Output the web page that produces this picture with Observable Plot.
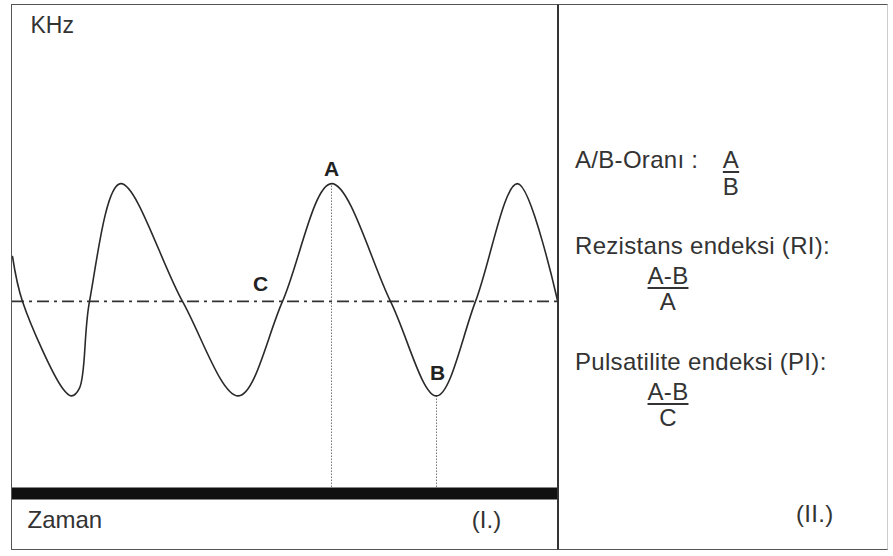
<!DOCTYPE html>
<html>
<head>
<meta charset="utf-8">
<script src="https://cdn.jsdelivr.net/npm/d3@7"></script>
<script src="https://cdn.jsdelivr.net/npm/@observablehq/plot@0.6"></script>
<style>
  body { margin: 0; background: #fff; }
  #page { position: relative; width: 893px; height: 556px; font-family: "Liberation Sans", Arial, sans-serif; color: #333; }
  #left { position: absolute; left: 11px; top: 4px; width: 545px; height: 544px; border: 1px solid #555; }
  #left svg { display: block; }
  #right { position: absolute; left: 557px; top: 4px; width: 328px; height: 544px; border-top: 1px solid #555; border-bottom: 1px solid #555; border-left: 2px solid #333; border-right: 1px solid #ccc; }
  .t { position: absolute; font-size: 24px; line-height: 24px; letter-spacing: 0.3px; white-space: nowrap; }
  .frac { position: absolute; font-size: 24px; text-align: center; white-space: nowrap; transform: translateX(-50%); letter-spacing: 0.3px; }
  .frac .num { text-decoration: underline; text-decoration-thickness: 1.5px; text-underline-offset: 3px; }
</style>
</head>
<body>
<div id="page">
  <div id="left"></div>
  <div id="right"></div>
  <div class="t" style="left:575px; top:148px;">A/B-Oranı :</div>
  <div class="frac" style="left:731px; top:146px; line-height:27px;"><div class="num">A</div><div>B</div></div>
  <div class="t" style="left:575px; top:234px;">Rezistans endeksi (RI):</div>
  <div class="frac" style="left:668px; top:263px; line-height:26px;"><div class="num">A-B</div><div>A</div></div>
  <div class="t" style="left:575px; top:350px;">Pulsatilite endeksi (PI):</div>
  <div class="frac" style="left:668px; top:379px; line-height:26px;"><div class="num">A-B</div><div>C</div></div>
  <div class="t" style="left:796px; top:502px;">(II.)</div>
</div>
<script>
// Doppler frequency-time curve (time in s, frequency shift in KHz)
const time = [0, 0.04, 0.2, 0.236, 0.268, 0.308, 0.432, 0.68, 0.904, 1.08, 1.276, 1.512, 1.696, 1.852, 2.02, 2.18];
const khz  = [3.06, 2.48, 1.36, 1.26, 1.36, 2.48, 4.0, 2.48, 1.26, 2.48, 4.0, 2.48, 1.26, 2.48, 4.0, 2.49];

// Characteristic values
const peakA = 4.0;      // A: systolic peak
const troughB = 1.26;   // B: end-diastolic value
const meanC = 2.48;     // C: mean
const tA = 1.276;
const tB = 1.696;
const tC = 0.992;

const pointLabels = ["A", "B", "C"];
const pointTimes = [tA, tB + 0.004, tC];
const pointValues = [peakA, troughB, meanC];
const pointOffsets = [-14, -23, -17];

const axisLabels = ["KHz", "Zaman", "(I.)"];

const curve = time.map((t, i) => ({t, f: khz[i]}));
const pts = pointLabels.map((name, i) => ({name, t: pointTimes[i], f: pointValues[i], dy: pointOffsets[i]}));

const font = "Liberation Sans, Arial, sans-serif";

const chart = Plot.plot({
  width: 545,
  height: 544,
  marginTop: 0,
  marginBottom: 56,
  marginLeft: 0,
  marginRight: 0,
  x: {domain: [0, 2.18], axis: null},
  y: {domain: [0, 6.3], axis: null},
  style: {fontFamily: font, background: "#fff"},
  marks: [
    Plot.ruleY([meanC], {stroke: "#333", strokeWidth: 1.6, strokeDasharray: "12,5,3,5"}),
    Plot.ruleX([{t: tA, f: peakA}, {t: tB, f: troughB}], {x: "t", y1: () => 0, y2: "f", stroke: "#777", strokeWidth: 1, strokeDasharray: "1.5,1.5"}),
    Plot.line(curve, {x: "t", y: "f", curve: "catmull-rom", stroke: "#2a2a2a", strokeWidth: 1.6}),
    Plot.ruleY([0], {stroke: "#111", strokeWidth: 12}),
    ...pts.map(p => Plot.text([p], {x: "t", y: "f", text: "name", dy: p.dy, fontSize: 21, fontWeight: "bold", fill: "#222"})),
    Plot.text([axisLabels[0]], {frameAnchor: "top-left", text: d => d, dx: 18, dy: 20, lineAnchor: "middle", textAnchor: "start", fontSize: 23, fill: "#333"}),
    Plot.text([axisLabels[1]], {frameAnchor: "bottom-left", text: d => d, dx: 15, dy: 27, lineAnchor: "middle", textAnchor: "start", fontSize: 24, fill: "#333"}),
    Plot.text([axisLabels[2]], {frameAnchor: "bottom-left", text: d => d, dx: 474, dy: 27, lineAnchor: "middle", textAnchor: "middle", fontSize: 24, fill: "#333"})
  ]
});
document.getElementById("left").appendChild(chart);
</script>
</body>
</html>
